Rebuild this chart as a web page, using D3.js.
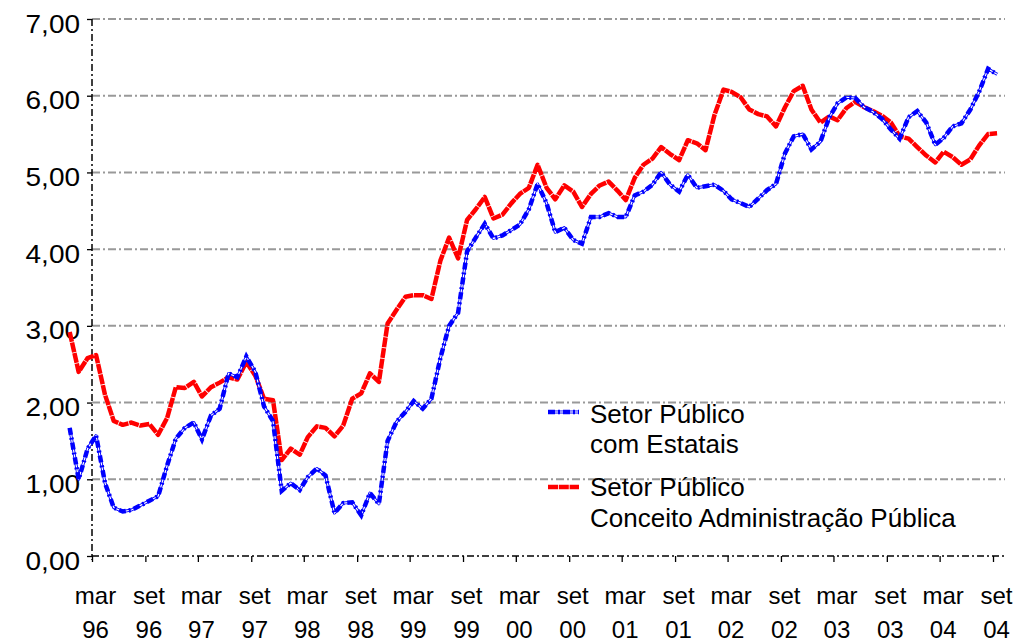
<!DOCTYPE html>
<html>
<head>
<meta charset="utf-8">
<script src="https://cdn.jsdelivr.net/npm/d3@7"></script>
<style>
  body { margin: 0; background: #fff; }
  svg { display: block; font-family: "Liberation Sans", Arial, sans-serif; }
</style>
</head>
<body>
<div id="chart"></div>
<script>
// monthly values, dez/95 .. set/04
var startYear = 1995, startMonth = 11;

var comEstatais = [
  1.67, 1.00, 1.40, 1.57, 0.95, 0.63, 0.58, 0.60, 0.66, 0.72, 0.78, 1.18,
  1.53, 1.67, 1.74, 1.52, 1.83, 1.92, 2.38, 2.33, 2.60, 2.40, 1.95, 1.76,
  0.85, 0.95, 0.86, 1.03, 1.14, 1.05, 0.56, 0.69, 0.70, 0.53, 0.82, 0.68,
  1.50, 1.75, 1.88, 2.02, 1.92, 2.05, 2.58, 3.00, 3.17, 3.97, 4.15, 4.33,
  4.14, 4.18, 4.25, 4.32, 4.52, 4.85, 4.60, 4.22, 4.28, 4.12, 4.07, 4.42,
  4.42, 4.47, 4.42, 4.42, 4.70, 4.75, 4.84, 5.00, 4.84, 4.75, 4.97, 4.80,
  4.82, 4.84, 4.76, 4.65, 4.60, 4.55, 4.66, 4.77, 4.85, 5.25, 5.47, 5.50,
  5.30, 5.40, 5.72, 5.90, 5.98, 5.97, 5.85, 5.79, 5.70, 5.56, 5.44, 5.72,
  5.80, 5.65, 5.36, 5.45, 5.60, 5.64, 5.82, 6.05, 6.35, 6.28
];

var admPublica = [
  2.92, 2.40, 2.58, 2.62, 2.10, 1.76, 1.71, 1.74, 1.70, 1.72, 1.58, 1.80,
  2.20, 2.19, 2.27, 2.08, 2.20, 2.26, 2.33, 2.30, 2.53, 2.35, 2.05, 2.03,
  1.25, 1.40, 1.32, 1.55, 1.69, 1.67, 1.56, 1.70, 2.05, 2.12, 2.38, 2.27,
  3.03, 3.21, 3.38, 3.40, 3.40, 3.35, 3.85, 4.15, 3.88, 4.38, 4.52, 4.68,
  4.40, 4.45, 4.60, 4.72, 4.80, 5.10, 4.80, 4.65, 4.83, 4.75, 4.55, 4.72,
  4.83, 4.88, 4.76, 4.64, 4.93, 5.10, 5.18, 5.33, 5.24, 5.16, 5.42, 5.38,
  5.29, 5.75, 6.08, 6.05, 5.98, 5.82, 5.76, 5.73, 5.60, 5.85, 6.06, 6.13,
  5.82, 5.65, 5.73, 5.68, 5.84, 5.92, 5.85, 5.80, 5.74, 5.65, 5.47, 5.44,
  5.33, 5.22, 5.13, 5.27, 5.20, 5.10, 5.17, 5.35, 5.50, 5.51
];

var yTicks = [0, 1, 2, 3, 4, 5, 6, 7];
var monthNames = ["jan", "fev", "mar", "abr", "mai", "jun", "jul", "ago", "set", "out", "nov", "dez"];
var legendLabels = [["Setor Público", "com Estatais"], ["Setor Público", "Conceito Administração Pública"]];

var width = 1036, height = 644;

var svg = d3.select("#chart").append("svg")
  .attr("width", width).attr("height", height);

var x = d3.scaleTime()
  .domain([new Date(1996, 2, 1), new Date(2004, 8, 1)])
  .range([92, 993]);

var y = d3.scaleLinear()
  .domain([0, 7])
  .range([556, 19]);

var locale = d3.formatLocale({ decimal: ",", thousands: ".", grouping: [3], currency: ["R$", ""] });
var fmt = locale.format(".2f");

function toSeries(vals) {
  return vals.map(function(v, i) { return { date: new Date(startYear, startMonth + i, 15), v: v }; });
}

// grid
svg.append("g").selectAll("line")
  .data(yTicks.filter(function(d) { return d > 0; }))
  .enter().append("line")
  .attr("x1", 92).attr("x2", 1005)
  .attr("y1", function(d) { return y(d); }).attr("y2", function(d) { return y(d); })
  .attr("stroke", "#999").attr("stroke-width", 2)
  .attr("stroke-dasharray", "8,3,2,3");

// x axis
var xTickDates = [];
for (var i = 0; i < 18; i++) xTickDates.push(new Date(1996, 2 + i * 6, 1));

var xAxis = svg.append("g")
  .attr("transform", "translate(0," + y(0) + ")")
  .call(d3.axisBottom(x).tickValues(xTickDates).tickSize(6).tickSizeOuter(0).tickFormat(""));

xAxis.select(".domain").attr("d", "M92,0H1005")
  .attr("stroke", "#000").attr("stroke-width", 1.5).attr("stroke-dasharray", "7,3,2,3");
xAxis.selectAll(".tick line").attr("stroke", "#000").attr("stroke-width", 1.3);
xAxis.selectAll(".tick").each(function(d) {
  var t = d3.select(this).append("text")
    .attr("fill", "#000").attr("font-size", 24).attr("text-anchor", "middle");
  t.append("tspan").attr("x", 3).attr("y", 48).text(monthNames[d.getMonth()]);
  t.append("tspan").attr("x", 3).attr("y", 82).text(String(d.getFullYear()).slice(2));
});

// y axis
var yAxis = svg.append("g")
  .attr("transform", "translate(92,0)")
  .call(d3.axisLeft(y).tickValues(yTicks).tickSize(5).tickSizeOuter(0).tickFormat(fmt));

yAxis.select(".domain").attr("d", "M0,19V560")
  .attr("stroke", "#000").attr("stroke-width", 1.5).attr("stroke-dasharray", "7,3,2,3");
yAxis.selectAll(".tick line").attr("stroke", "#000").attr("stroke-width", 1.3);
yAxis.selectAll(".tick text")
  .attr("font-size", 25).attr("fill", "#000")
  .attr("x", -10.7).attr("dy", "0.52em")
  .attr("transform", "scale(1.12,1)");

// lines
var line = d3.line()
  .x(function(d) { return x(d.date); })
  .y(function(d) { return y(d.v); });

function drawRed(sel, d) {
  sel.append("path").attr("d", d).attr("fill", "none")
    .attr("stroke", "#ff0000").attr("stroke-width", 4.5)
    .attr("stroke-dasharray", "10,0.8").attr("stroke-linejoin", "round");
}
function drawBlue(sel, d) {
  // thin double line underneath, thick dashes on top
  sel.append("path").attr("d", d).attr("fill", "none")
    .attr("stroke", "#0000ff").attr("stroke-width", 3)
    .attr("stroke-linejoin", "round");
  sel.append("path").attr("d", d).attr("fill", "none")
    .attr("stroke", "#fff").attr("stroke-width", 1.2);
  sel.append("path").attr("d", d).attr("fill", "none")
    .attr("stroke", "#0000ff").attr("stroke-width", 4.5)
    .attr("stroke-dasharray", "7,3,2,3");
}

var lines = svg.append("g");
drawRed(lines, line(toSeries(admPublica)));
drawBlue(lines, line(toSeries(comEstatais)));

// legend
var legend = svg.append("g");
drawBlue(legend, "M548,412H579");
drawRed(legend, "M548,487H579");

var legendY = [[423, 453], [496, 527]];
legendLabels.forEach(function(lbl, k) {
  lbl.forEach(function(s, j) {
    legend.append("text")
      .attr("x", 590).attr("y", legendY[k][j])
      .attr("font-size", 26).attr("fill", "#000")
      .text(s);
  });
});
</script>
</body>
</html>
